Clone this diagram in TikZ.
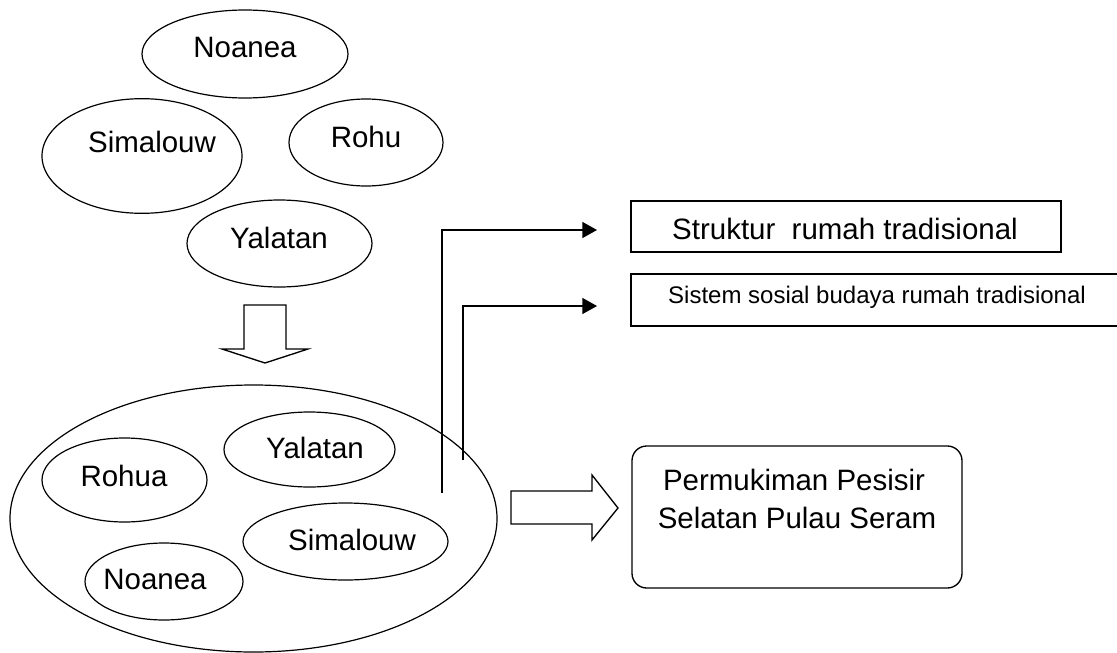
\documentclass[tikz,border=0pt]{standalone}
\usepackage{fontspec}
\setmainfont{Liberation Sans}
\usetikzlibrary{shapes.geometric,arrows.meta}
\begin{document}
\begin{tikzpicture}[x=0.75pt,y=-0.75pt,
  ell/.style={draw, ellipse, inner sep=0pt, line width=0.9pt},
  lbl/.style={anchor=base, inner sep=0pt, font=\fontsize{22.1}{26}\selectfont},
  smalllbl/.style={anchor=base, inner sep=0pt, font=\fontsize{18}{22}\selectfont},
  boxnode/.style={draw, rectangle, inner sep=0pt, line width=1pt},
  conn/.style={line width=1pt, -{Triangle[length=11pt,width=12pt]}},
  blockarrow/.style={draw, line width=1pt, line join=miter, fill=white}]
\useasboundingbox (0,0) rectangle (1117,653);
\clip (0,0) rectangle (1117,653);
\fill[white] (0,0) rectangle (1117,653);
% top ellipses
\node[ell, minimum width=154.5pt, minimum height=66pt] (noaneaT) at (245,54) {};
\node[lbl] (noaneaTl) at (245,57.5) {Noanea};
\node[ell, minimum width=150pt, minimum height=86pt] (simalouwT) at (142,156) {};
\node[lbl] (simalouwTl) at (152,152) {Simalouw};
\node[ell, minimum width=115.5pt, minimum height=65.25pt] (rohuT) at (366,142.5) {};
\node[lbl] (rohuTl) at (366,147) {Rohu};
\node[ell, minimum width=138.75pt, minimum height=65.25pt] (yalatanT) at (279.5,243.5) {};
\node[lbl] (yalatanTl) at (279,248) {Yalatan};
% down block arrow
\draw[blockarrow] (244,305) -- (286,305) -- (286,349) -- (308,349) -- (265,363) -- (222,349) -- (244,349) -- cycle;
% big ellipse and inner ones
\node[ell, minimum width=365.25pt, minimum height=200.25pt] (big) at (253.5,518.5) {};
\node[ell, minimum width=123.75pt, minimum height=63pt] (rohua) at (124.5,480) {};
\node[lbl] (rohual) at (124,486) {Rohua};
\node[ell, minimum width=128.25pt, minimum height=56.25pt] (yalatanB) at (309.5,449.5) {};
\node[lbl] (yalatanBl) at (315,458) {Yalatan};
\node[ell, minimum width=153.75pt, minimum height=57.75pt] (simalouwB) at (345.5,541.5) {};
\node[lbl] (simalouwBl) at (352,550) {Simalouw};
\node[ell, minimum width=118.5pt, minimum height=57.75pt] (noaneaB) at (164,581.5) {};
\node[lbl] (noaneaBl) at (155,589) {Noanea};
% right block arrow
\draw[blockarrow] (511,491) -- (592,491) -- (592,475) -- (618,508) -- (592,540) -- (592,524) -- (511,524) -- cycle;
% boxes
\node[boxnode, minimum width=322.5pt, minimum height=38.25pt] (struktur) at (846,226.5) {};
\node[lbl] (strukturl) at (845,239) {Struktur\ \ rumah tradisional};
\node[boxnode, minimum width=370.5pt, minimum height=39pt] (sistem) at (878,300) {};
\node[smalllbl] (sisteml) at (877,303) {Sistem sosial budaya rumah tradisional};
\node[boxnode, rounded corners=11pt, minimum width=247.5pt, minimum height=106.5pt] (permukiman) at (797,517) {};
\node[lbl] (perm1) at (794,490) {Permukiman Pesisir};
\node[lbl] (perm2) at (797,528) {Selatan Pulau Seram};
% connectors
\coordinate (s1) at (442,493);
\coordinate (e1) at (597,230);
\coordinate (s2) at (463,460);
\coordinate (e2) at (597,306);
\draw[conn] (s1) |- (e1);
\draw[conn] (s2) |- (e2);
\end{tikzpicture}
\end{document}
